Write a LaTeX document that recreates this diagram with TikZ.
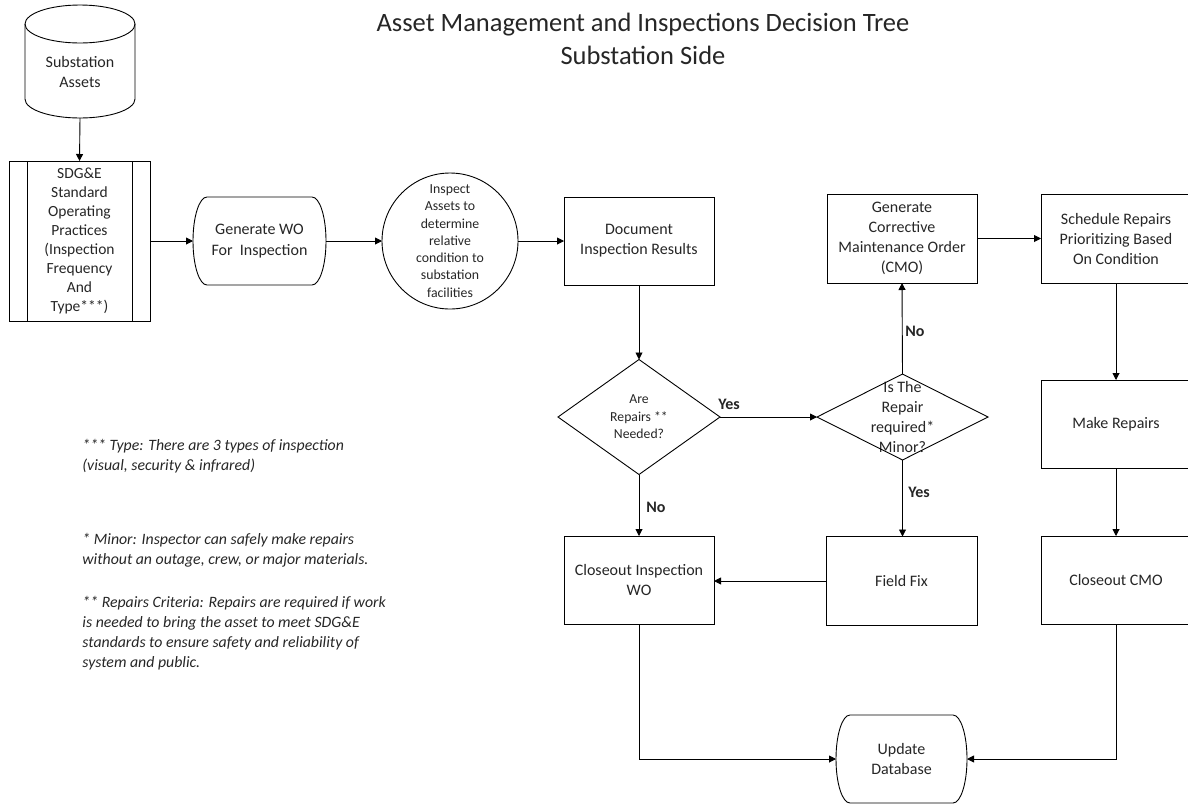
\documentclass[tikz,border=0pt]{standalone}
\usepackage{fontspec}
\setmainfont{Carlito}
\usetikzlibrary{arrows.meta,shapes.geometric,calc}
\newcommand\nfont{\fontsize{16}{20}\selectfont}
\begin{document}
\begin{tikzpicture}[x=1pt,y=1pt,
  line width=0.9pt,
  txt/.style={text=black!85},
  box/.style={draw, rectangle, minimum width=150pt, minimum height=88pt, align=center, font=\nfont, inner sep=1pt, outer sep=0pt, txt},
  ghost/.style={rectangle, align=center, inner sep=0pt, outer sep=0pt, txt},
  arr/.style={-{Triangle[length=7pt,width=7pt]}},
  lbl/.style={font=\fontsize{16}{18}\selectfont\bfseries, txt},
  note/.style={font=\fontsize{15.8}{20}\selectfont\itshape, align=left, anchor=west, inner sep=0pt, txt}
]
\useasboundingbox (0,0) rectangle (1188,-804);

% title
\node[txt, align=center, font=\fontsize{26.5}{33}\selectfont] (title) at (643,-39) {Asset Management and Inspections Decision Tree\\Substation Side};

% cylinder
\node[ghost, minimum width=110pt, minimum height=92pt, font=\nfont] (assets) at (80,-72) {Substation\\Assets};
\draw (25,-24) -- (25,-99) arc[start angle=180, end angle=360, x radius=55pt, y radius=19pt] -- (135,-24);
\draw (80,-24) ellipse[x radius=55pt, y radius=19pt];

% predefined process
\node[box, minimum width=141pt, minimum height=160pt, font=\fontsize{15.5}{19}\selectfont] (sop) at (79.5,-241) {SDG\&E\\Standard\\Operating\\Practices\\(Inspection\\Frequency\\And\\Type***)};
\draw ([xshift=18pt]sop.north west) -- ([xshift=18pt]sop.south west);
\draw ([xshift=-18pt]sop.north east) -- ([xshift=-18pt]sop.south east);

% generate WO terminal
\node[ghost, minimum width=133pt, minimum height=88pt, font=\fontsize{16}{21}\selectfont] (gen) at (259.5,-241) {Generate WO\\For\ \ Inspection};
\draw ([xshift=14pt]gen.north west) -- ([xshift=-14pt]gen.north east)
  arc[start angle=90, end angle=-90, x radius=14pt, y radius=44pt]
  -- ([xshift=14pt]gen.south west)
  arc[start angle=270, end angle=90, x radius=14pt, y radius=44pt] -- cycle;

% circle
\node[draw, circle, minimum size=136pt, inner sep=0pt, outer sep=0pt, align=center, font=\fontsize{13.8}{17.3}\selectfont, txt] (circ) at (450,-241) {Inspect\\Assets to\\determine\\relative\\condition to\\substation\\facilities};

% document
\node[box] (doc) at (639,-241) {Document\\Inspection Results};

% diamonds
\node[ghost, minimum width=162pt, minimum height=115pt, font=\fontsize{13.7}{17.5}\selectfont] (d1) at (639,-417) {Are\\Repairs **\\Needed?};
\draw (d1.north) -- (d1.east) -- (d1.south) -- (d1.west) -- cycle;
\node[ghost, minimum width=171pt, minimum height=86pt, font=\nfont] (d2) at (902.5,-417) {Is The\\Repair\\required*\\Minor?};
\draw (d2.north) -- (d2.east) -- (d2.south) -- (d2.west) -- cycle;

% right column boxes
\node[box, minimum height=89pt] (cmo) at (902,-238.5) {Generate\\Corrective\\Maintenance Order\\(CMO)};
\node[box, minimum height=89pt] (sched) at (1116,-238.5) {Schedule Repairs\\Prioritizing Based\\On Condition};
\node[box] (rep) at (1116,-424) {Make Repairs};
\node[box] (ccmo) at (1116,-580) {Closeout CMO};
\node[box] (ciwo) at (639,-580) {Closeout Inspection\\WO};
\node[box, minimum width=151pt, minimum height=89pt] (ff) at (901.5,-581) {Field Fix};

% update database terminal
\node[ghost, minimum width=131pt, minimum height=88pt, font=\nfont] (upd) at (901.5,-759) {Update\\Database};
\draw ([xshift=14pt]upd.north west) -- ([xshift=-14pt]upd.north east)
  arc[start angle=90, end angle=-90, x radius=14pt, y radius=44pt]
  -- ([xshift=14pt]upd.south west)
  arc[start angle=270, end angle=90, x radius=14pt, y radius=44pt] -- cycle;

% connectors
\draw[arr] (assets.south) -- (sop.north);
\draw[arr] (sop.east) -- (gen.west);
\draw[arr] (gen.east) -- (circ.west);
\draw[arr] (circ.east) -- (doc.west);
\draw[arr] (doc.south) -- (d1.north);
\draw[arr] (d1.east) -- (d2.west);
\draw[arr] (d2.north) -- (cmo.south);
\draw[arr] (d2.south) -- (ff.north -| d2.south);
\draw[arr] (d1.south) -- (ciwo.north);
\draw[arr] (cmo.east) -- (sched.west);
\draw[arr] (sched.south) -- (rep.north);
\draw[arr] (rep.south) -- (ccmo.north);
\draw[arr] (ff.west) -- (ff.west -| ciwo.east);
\draw[arr] (ciwo.south) |- (upd.west);
\draw[arr] (ccmo.south) |- (upd.east);

% labels
\node[lbl] (yes1) at (729,-404) {Yes};
\node[lbl] (yes2) at (919,-492) {Yes};
\node[lbl] (no1) at (656,-507) {No};
\node[lbl] (no2) at (915,-331) {No};

% notes
\node[note] (n1) at (82,-456) {*** Type: There are 3 types of inspection\\(visual, security \& infrared)};
\node[note] (n2) at (82,-550) {* Minor: Inspector can safely make repairs\\without an outage, crew, or major materials.};
\node[note] (n3) at (82,-633) {** Repairs Criteria: Repairs are required if work\\is needed to bring the asset to meet SDG\&E\\standards to ensure safety and reliability of\\system and public.};
\end{tikzpicture}
\end{document}
